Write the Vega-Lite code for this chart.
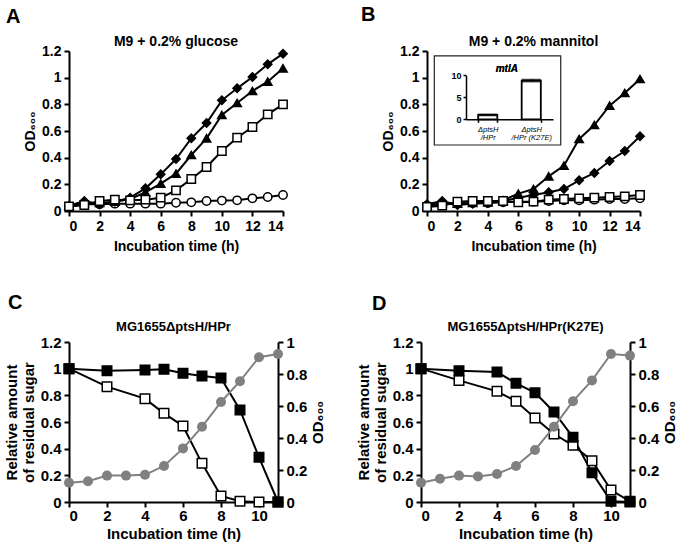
{
  "$schema": "https://vega.github.io/schema/vega-lite/v6.json",
  "autosize": {"type": "pad"},
  "padding": {"left": 4, "top": 5, "right": 2, "bottom": 5},
  "background": "white",
  "spacing": 40,
  "datasets": {
    "gluc": [
      {"t":0,"s":"circle","v":0.03},{"t":1,"s":"circle","v":0.05},{"t":2,"s":"circle","v":0.05},{"t":3,"s":"circle","v":0.055},{"t":4,"s":"circle","v":0.055},{"t":5,"s":"circle","v":0.055},{"t":6,"s":"circle","v":0.055},{"t":7,"s":"circle","v":0.062},{"t":8,"s":"circle","v":0.065},{"t":9,"s":"circle","v":0.075},{"t":10,"s":"circle","v":0.078},{"t":11,"s":"circle","v":0.08},{"t":12,"s":"circle","v":0.095},{"t":13,"s":"circle","v":0.105},{"t":14,"s":"circle","v":0.12},
      {"t":0,"s":"diamond","v":0.04},{"t":1,"s":"diamond","v":0.075},{"t":2,"s":"diamond","v":0.05},{"t":3,"s":"diamond","v":0.07},{"t":4,"s":"diamond","v":0.1},{"t":5,"s":"diamond","v":0.17},{"t":6,"s":"diamond","v":0.275},{"t":7,"s":"diamond","v":0.39},{"t":8,"s":"diamond","v":0.545},{"t":9,"s":"diamond","v":0.66},{"t":10,"s":"diamond","v":0.83},{"t":11,"s":"diamond","v":0.92},{"t":12,"s":"diamond","v":1.005},{"t":13,"s":"diamond","v":1.1},{"t":14,"s":"diamond","v":1.18},
      {"t":0,"s":"triangle","v":0.04},{"t":1,"s":"triangle","v":0.06},{"t":2,"s":"triangle","v":0.06},{"t":3,"s":"triangle","v":0.07},{"t":4,"s":"triangle","v":0.09},{"t":5,"s":"triangle","v":0.14},{"t":6,"s":"triangle","v":0.205},{"t":7,"s":"triangle","v":0.28},{"t":8,"s":"triangle","v":0.42},{"t":9,"s":"triangle","v":0.545},{"t":10,"s":"triangle","v":0.72},{"t":11,"s":"triangle","v":0.81},{"t":12,"s":"triangle","v":0.9},{"t":13,"s":"triangle","v":0.97},{"t":14,"s":"triangle","v":1.07},
      {"t":0,"s":"square","v":0.035},{"t":1,"s":"square","v":0.045},{"t":2,"s":"square","v":0.075},{"t":3,"s":"square","v":0.085},{"t":4,"s":"square","v":0.08},{"t":5,"s":"square","v":0.085},{"t":6,"s":"square","v":0.1},{"t":7,"s":"square","v":0.155},{"t":8,"s":"square","v":0.24},{"t":9,"s":"square","v":0.33},{"t":10,"s":"square","v":0.45},{"t":11,"s":"square","v":0.55},{"t":12,"s":"square","v":0.63},{"t":13,"s":"square","v":0.725},{"t":14,"s":"square","v":0.8}
    ],
    "mann": [
      {"t":0,"s":"circle","v":0.04},{"t":1,"s":"circle","v":0.05},{"t":2,"s":"circle","v":0.055},{"t":3,"s":"circle","v":0.06},{"t":4,"s":"circle","v":0.06},{"t":5,"s":"circle","v":0.065},{"t":6,"s":"circle","v":0.07},{"t":7,"s":"circle","v":0.07},{"t":8,"s":"circle","v":0.075},{"t":9,"s":"circle","v":0.08},{"t":10,"s":"circle","v":0.08},{"t":11,"s":"circle","v":0.085},{"t":12,"s":"circle","v":0.09},{"t":13,"s":"circle","v":0.09},{"t":14,"s":"circle","v":0.095},
      {"t":0,"s":"diamond","v":0.05},{"t":1,"s":"diamond","v":0.075},{"t":2,"s":"diamond","v":0.045},{"t":3,"s":"diamond","v":0.055},{"t":4,"s":"diamond","v":0.06},{"t":5,"s":"diamond","v":0.075},{"t":6,"s":"diamond","v":0.1},{"t":7,"s":"diamond","v":0.12},{"t":8,"s":"diamond","v":0.14},{"t":9,"s":"diamond","v":0.165},{"t":10,"s":"diamond","v":0.23},{"t":11,"s":"diamond","v":0.285},{"t":12,"s":"diamond","v":0.375},{"t":13,"s":"diamond","v":0.45},{"t":14,"s":"diamond","v":0.56},
      {"t":0,"s":"triangle","v":0.04},{"t":1,"s":"triangle","v":0.06},{"t":2,"s":"triangle","v":0.055},{"t":3,"s":"triangle","v":0.06},{"t":4,"s":"triangle","v":0.065},{"t":5,"s":"triangle","v":0.08},{"t":6,"s":"triangle","v":0.13},{"t":7,"s":"triangle","v":0.165},{"t":8,"s":"triangle","v":0.26},{"t":9,"s":"triangle","v":0.34},{"t":10,"s":"triangle","v":0.54},{"t":11,"s":"triangle","v":0.645},{"t":12,"s":"triangle","v":0.79},{"t":13,"s":"triangle","v":0.885},{"t":14,"s":"triangle","v":0.99},
      {"t":0,"s":"square","v":0.03},{"t":1,"s":"square","v":0.04},{"t":2,"s":"square","v":0.07},{"t":3,"s":"square","v":0.075},{"t":4,"s":"square","v":0.075},{"t":5,"s":"square","v":0.075},{"t":6,"s":"square","v":0.065},{"t":7,"s":"square","v":0.07},{"t":8,"s":"square","v":0.085},{"t":9,"s":"square","v":0.09},{"t":10,"s":"square","v":0.095},{"t":11,"s":"square","v":0.1},{"t":12,"s":"square","v":0.105},{"t":13,"s":"square","v":0.11},{"t":14,"s":"square","v":0.12}
    ],
    "inset": [
      {"strain":"HPr","mtlA":1.0,"lo":0.85,"hi":1.15},
      {"strain":"HPr (K27E)","mtlA":8.8,"lo":8.55,"hi":9.05}
    ],
    "sugarC": [
      {"t":0,"s":"open","v":1.0},{"t":2,"s":"open","v":0.865},{"t":4,"s":"open","v":0.775},{"t":5,"s":"open","v":0.665},{"t":6,"s":"open","v":0.57},{"t":7,"s":"open","v":0.29},{"t":8,"s":"open","v":0.045},{"t":9,"s":"open","v":0.005},{"t":10,"s":"open","v":0.0},{"t":11,"s":"open","v":0.0},
      {"t":0,"s":"filled","v":1.0},{"t":2,"s":"filled","v":0.985},{"t":4,"s":"filled","v":0.99},{"t":5,"s":"filled","v":0.995},{"t":6,"s":"filled","v":0.965},{"t":7,"s":"filled","v":0.945},{"t":8,"s":"filled","v":0.93},{"t":9,"s":"filled","v":0.69},{"t":10,"s":"filled","v":0.335},{"t":11,"s":"filled","v":0.0}
    ],
    "odC": [
      {"t":0,"v":0.12},{"t":1,"v":0.13},{"t":2,"v":0.165},{"t":3,"v":0.165},{"t":4,"v":0.17},{"t":5,"v":0.225},{"t":6,"v":0.335},{"t":7,"v":0.47},{"t":8,"v":0.625},{"t":9,"v":0.755},{"t":10,"v":0.905},{"t":11,"v":0.925}
    ],
    "sugarD": [
      {"t":0,"s":"open","v":1.0},{"t":2,"s":"open","v":0.912},{"t":4,"s":"open","v":0.83},{"t":5,"s":"open","v":0.755},{"t":6,"s":"open","v":0.63},{"t":7,"s":"open","v":0.51},{"t":8,"s":"open","v":0.425},{"t":9,"s":"open","v":0.31},{"t":10,"s":"open","v":0.09},{"t":11,"s":"open","v":0.005},
      {"t":0,"s":"filled","v":1.0},{"t":2,"s":"filled","v":0.985},{"t":4,"s":"filled","v":0.975},{"t":5,"s":"filled","v":0.89},{"t":6,"s":"filled","v":0.82},{"t":7,"s":"filled","v":0.675},{"t":8,"s":"filled","v":0.485},{"t":9,"s":"filled","v":0.22},{"t":10,"s":"filled","v":0.005},{"t":11,"s":"filled","v":0.0}
    ],
    "odD": [
      {"t":0,"v":0.12},{"t":1,"v":0.145},{"t":2,"v":0.165},{"t":3,"v":0.16},{"t":4,"v":0.175},{"t":5,"v":0.225},{"t":6,"v":0.325},{"t":7,"v":0.47},{"t":8,"v":0.63},{"t":9,"v":0.76},{"t":10,"v":0.925},{"t":11,"v":0.915}
    ]
  },
  "vconcat": [
    {
      "spacing": 70,
      "hconcat": [
        {
          "title": {"text": "A", "anchor": "start", "frame": "group", "fontSize": 20, "dx": -63, "offset": 8},
          "vconcat": [
            {
              "width": 214, "height": 160,
              "title": {"text": "M9 + 0.2% glucose", "offset": -5},
              "data": {"name": "gluc"},
              "encoding": {
                "x": {"field": "t", "type": "quantitative", "scale": {"domain": [0, 14], "nice": false}, "axis": {"values": [0,2,4,6,8,10,12,14], "title": "Incubation time (h)", "titlePadding": 6}},
                "y": {"field": "v", "type": "quantitative", "scale": {"domain": [0, 1.2], "nice": false}, "axis": {"values": [0,0.2,0.4,0.6,0.8,1,1.2], "format": ".1~f", "title": "OD₆₀₀"}}
              },
              "layer": [
                {"mark": {"type": "line", "color": "black", "strokeWidth": 2}, "encoding": {"detail": {"field": "s"}}},
                {"mark": {"type": "point", "filled": true, "opacity": 1, "stroke": "black", "strokeWidth": 1.5},
                 "encoding": {
                   "shape": {"field": "s", "type": "nominal", "scale": {"domain": ["circle","diamond","triangle","square"], "range": ["circle","diamond","triangle-up","square"]}, "legend": null},
                   "fill": {"field": "s", "type": "nominal", "scale": {"domain": ["circle","diamond","triangle","square","filled","open"], "range": ["white","black","black","white","black","white"]}, "legend": null},
                   "size": {"field": "s", "type": "nominal", "scale": {"domain": ["circle","diamond","triangle","square"], "range": [70, 70, 70, 90]}, "legend": null}
                 }}
              ]
            }
          ]
        },
        {
          "title": {"text": "B", "anchor": "start", "frame": "group", "fontSize": 20, "dx": -66, "offset": 10},
          "vconcat": [
            {
              "width": 213, "height": 160,
              "title": {"text": "M9 + 0.2% mannitol", "offset": -5},
              "layer": [
                {
                  "data": {"name": "mann"},
                  "encoding": {
                    "x": {"field": "t", "type": "quantitative", "scale": {"domain": [0, 14], "nice": false}, "axis": {"orient": "bottom", "values": [0,2,4,6,8,10,12,14], "title": "Incubation time (h)", "titlePadding": 6}},
                    "y": {"field": "v", "type": "quantitative", "scale": {"domain": [0, 1.2], "nice": false}, "axis": {"orient": "left", "values": [0,0.2,0.4,0.6,0.8,1,1.2], "format": ".1~f", "title": "OD₆₀₀"}}
                  },
                  "layer": [
                    {"mark": {"type": "line", "color": "black", "strokeWidth": 2}, "encoding": {"detail": {"field": "s"}}},
                    {"mark": {"type": "point", "filled": true, "opacity": 1, "stroke": "black", "strokeWidth": 1.5},
                     "encoding": {
                       "shape": {"field": "s", "type": "nominal", "scale": {"domain": ["circle","diamond","triangle","square"], "range": ["circle","diamond","triangle-up","square"]}, "legend": null},
                       "fill": {"field": "s", "type": "nominal", "scale": {"domain": ["circle","diamond","triangle","square","filled","open"], "range": ["white","black","black","white","black","white"]}, "legend": null},
                       "size": {"field": "s", "type": "nominal", "scale": {"domain": ["circle","diamond","triangle","square"], "range": [70, 70, 70, 90]}, "legend": null}
                     }}
                  ]
                },
                {
                  "data": {"values": [{"frame": "inset"}]},
                  "mark": {"type": "rect", "fill": "white", "fillOpacity": 1, "stroke": "#222222", "strokeOpacity": 1, "strokeWidth": 1.2},
                  "encoding": {
                    "x": {"datum": 0.48, "type": "quantitative", "scale": {"domain": [0, 14], "nice": false}, "axis": null},
                    "x2": {"datum": 8.79},
                    "y": {"datum": 0.495, "type": "quantitative", "scale": {"domain": [0, 1.2], "nice": false}, "axis": null},
                    "y2": {"datum": 1.163}
                  }
                },
                {
                  "data": {"name": "inset"},
                  "encoding": {
                    "x": {"field": "strain", "type": "nominal", "sort": null,
                          "scale": {"domain": ["HPr", "HPr (K27E)"], "range": [39, 126], "paddingInner": 0.56, "paddingOuter": 0.28},
                          "axis": {"orient": "bottom", "offset": -91.7, "zindex": 2, "title": null, "labelExpr": "datum.label ? ['ΔptsH', '/' + datum.label] : ''", "labelFontSize": 7.5, "labelFontStyle": "italic", "labelFontWeight": "normal", "labelAngle": 0, "tickBand": "extent", "domainWidth": 1.5, "tickWidth": 1.5, "tickSize": 3, "labelPadding": 3, "labelLineHeight": 8}}
                  },
                  "layer": [
                    {"mark": {"type": "bar", "fill": "white", "stroke": "black", "strokeWidth": 1.8},
                     "encoding": {"y": {"field": "mtlA", "type": "quantitative", "scale": {"domain": [0, 10], "range": [68.3, 24.3], "nice": false},
                       "axis": {"orient": "left", "offset": -39, "zindex": 2, "values": [0, 2.5, 5, 7.5, 10], "format": ".1~f", "title": null, "labelFontSize": 9, "labelOverlap": false, "labelBound": false, "labelFlush": false, "tickSize": 3, "domainWidth": 1.5, "tickWidth": 1.5, "labelPadding": 2}}}},
                    {"mark": {"type": "errorbar", "ticks": true, "color": "black", "thickness": 1.5},
                     "encoding": {"y": {"field": "lo", "type": "quantitative"}, "y2": {"field": "hi"}}},
                    {"mark": {"type": "text", "text": "mtlA", "fontStyle": "italic", "fontWeight": "bold", "fontSize": 10, "dx": 9.5},
                     "encoding": {"x": {"datum": "HPr", "type": "nominal", "bandPosition": 1}, "y": {"datum": 11.43, "type": "quantitative"}}}
                  ]
                }
              ],
              "resolve": {"scale": {"x": "independent", "y": "independent"}}
            }
          ]
        }
      ]
    },
    {
      "spacing": 30,
      "hconcat": [
        {
          "title": {"text": "C", "anchor": "start", "frame": "group", "fontSize": 20, "dx": -61, "offset": 8},
          "vconcat": [
            {
              "width": 209, "height": 160,
              "title": {"text": "MG1655ΔptsH/HPr", "offset": 1, "fontSize": 13},
              "layer": [
                {
                  "data": {"name": "sugarC"},
                  "encoding": {
                    "x": {"field": "t", "type": "quantitative", "scale": {"domain": [0, 11], "nice": false}, "axis": {"values": [0,2,4,6,8,10], "title": "Incubation time (h)", "labelFontSize": 15, "titleFontSize": 15, "labelPadding": 1, "titlePadding": 3}},
                    "y": {"field": "v", "type": "quantitative", "scale": {"domain": [0, 1.2], "nice": false}, "axis": {"values": [0,0.2,0.4,0.6,0.8,1,1.2], "format": ".1~f", "title": ["Relative amount", "of residual sugar"], "labelFontSize": 15, "titleFontSize": 15}}
                  },
                  "layer": [
                    {"mark": {"type": "line", "color": "black", "strokeWidth": 2}, "encoding": {"detail": {"field": "s"}}},
                    {"mark": {"type": "point", "shape": "square", "filled": true, "opacity": 1, "stroke": "black", "strokeWidth": 1.5, "size": 90},
                     "encoding": {"fill": {"field": "s", "type": "nominal", "scale": {"domain": ["circle","diamond","triangle","square","filled","open"], "range": ["white","black","black","white","black","white"]}, "legend": null}}}
                  ]
                },
                {
                  "data": {"name": "odC"},
                  "encoding": {
                    "x": {"field": "t", "type": "quantitative"},
                    "y": {"field": "v", "type": "quantitative", "scale": {"domain": [0, 1], "nice": false}, "axis": {"orient": "right", "values": [0,0.2,0.4,0.6,0.8,1], "format": ".1~f", "title": "OD₆₀₀", "titleAngle": 270, "titleBaseline": "top", "labelFontSize": 15, "titleFontSize": 15}}
                  },
                  "layer": [
                    {"mark": {"type": "line", "color": "#808080", "strokeWidth": 2}, "encoding": {}},
                    {"mark": {"type": "circle", "color": "#808080", "opacity": 1, "size": 100}, "encoding": {}}
                  ]
                }
              ],
              "resolve": {"scale": {"y": "independent"}}
            }
          ]
        },
        {
          "title": {"text": "D", "anchor": "start", "frame": "group", "fontSize": 20, "dx": -49, "offset": 7},
          "vconcat": [
            {
              "width": 209, "height": 160,
              "title": {"text": "MG1655ΔptsH/HPr(K27E)", "offset": 1, "fontSize": 13},
              "layer": [
                {
                  "data": {"name": "sugarD"},
                  "encoding": {
                    "x": {"field": "t", "type": "quantitative", "scale": {"domain": [0, 11], "nice": false}, "axis": {"values": [0,2,4,6,8,10], "title": "Incubation time (h)", "labelFontSize": 15, "titleFontSize": 15, "labelPadding": 1, "titlePadding": 3}},
                    "y": {"field": "v", "type": "quantitative", "scale": {"domain": [0, 1.2], "nice": false}, "axis": {"values": [0,0.2,0.4,0.6,0.8,1,1.2], "format": ".1~f", "title": ["Relative amount", "of residual sugar"], "labelFontSize": 15, "titleFontSize": 15}}
                  },
                  "layer": [
                    {"mark": {"type": "line", "color": "black", "strokeWidth": 2}, "encoding": {"detail": {"field": "s"}}},
                    {"mark": {"type": "point", "shape": "square", "filled": true, "opacity": 1, "stroke": "black", "strokeWidth": 1.5, "size": 90},
                     "encoding": {"fill": {"field": "s", "type": "nominal", "scale": {"domain": ["circle","diamond","triangle","square","filled","open"], "range": ["white","black","black","white","black","white"]}, "legend": null}}}
                  ]
                },
                {
                  "data": {"name": "odD"},
                  "encoding": {
                    "x": {"field": "t", "type": "quantitative"},
                    "y": {"field": "v", "type": "quantitative", "scale": {"domain": [0, 1], "nice": false}, "axis": {"orient": "right", "values": [0,0.2,0.4,0.6,0.8,1], "format": ".1~f", "title": "OD₆₀₀", "titleAngle": 270, "titleBaseline": "top", "labelFontSize": 15, "titleFontSize": 15}}
                  },
                  "layer": [
                    {"mark": {"type": "line", "color": "#808080", "strokeWidth": 2}, "encoding": {}},
                    {"mark": {"type": "circle", "color": "#808080", "opacity": 1, "size": 100}, "encoding": {}}
                  ]
                }
              ],
              "resolve": {"scale": {"y": "independent"}}
            }
          ]
        }
      ]
    }
  ],
  "config": {
    "font": "Liberation Sans",
    "view": {"stroke": null},
    "axis": {"grid": false, "domainColor": "black", "domainWidth": 2, "tickColor": "black", "tickWidth": 2, "tickSize": 5, "labelFont": "Liberation Sans", "labelFontSize": 14, "labelFontWeight": "bold", "labelColor": "black", "labelPadding": 3, "titleFont": "Liberation Sans", "titleFontSize": 14, "titleFontWeight": "bold", "titleColor": "black"},
    "title": {"font": "Liberation Sans", "fontSize": 14, "fontWeight": "bold", "color": "black"}
  }
}
